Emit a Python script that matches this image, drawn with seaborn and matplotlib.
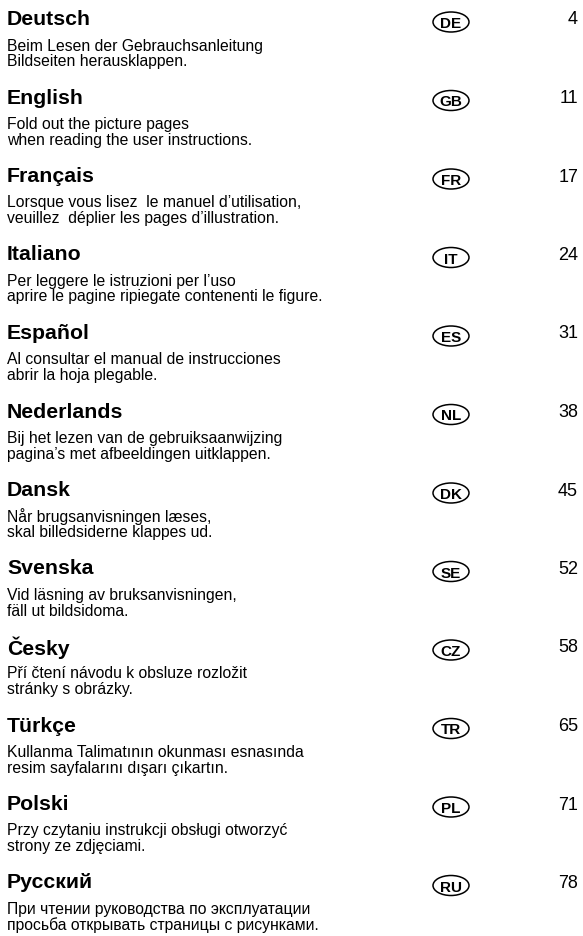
import matplotlib
matplotlib.use("Agg")
import matplotlib.pyplot as plt
from matplotlib.patches import Ellipse
import seaborn as sns

# -------- Table of contents data --------
languages = ["Deutsch", "English", "Français", "Italiano", "Español", "Nederlands",
             "Dansk", "Svenska", "Česky", "Türkçe", "Polski", "Русский"]
codes = ["DE", "GB", "FR", "IT", "ES", "NL", "DK", "SE", "CZ", "TR", "PL", "RU"]
pages = [4, 11, 17, 24, 31, 38, 45, 52, 58, 65, 71, 78]
notes = [
    ("Beim Lesen der Gebrauchsanleitung", "Bildseiten herausklappen."),
    ("Fold out the picture pages", "when reading the user instructions."),
    ("Lorsque vous lisez  le manuel d’utilisation,", "veuillez  déplier les pages d’illustration."),
    ("Per leggere le istruzioni per l’uso", "aprire le pagine ripiegate contenenti le figure."),
    ("Al consultar el manual de instrucciones", "abrir la hoja plegable."),
    ("Bij het lezen van de gebruiksaanwijzing", "pagina’s met afbeeldingen uitklappen."),
    ("Når brugsanvisningen læses,", "skal billedsiderne klappes ud."),
    ("Vid läsning av bruksanvisningen,", "fäll ut bildsidoma."),
    ("Pří čtení návodu k obsluze rozložit", "stránky s obrázky."),
    ("Kullanma Talimatının okunması esnasında", "resim sayfalarını dışarı çıkartın."),
    ("Przy czytaniu instrukcji obsługi otworzyć", "strony ze zdjęciami."),
    ("При чтении руководства по эксплуатации", "просьба открывать страницы с рисунками."),
]

sns.set_theme(style="white")
plt.rcParams["font.family"] = ["Liberation Sans", "DejaVu Sans"]

W, H = 583, 936
fig = plt.figure(figsize=(W / 100, H / 100), dpi=100)
ax = fig.add_axes([0, 0, 1, 1])
ax.set_xlim(0, W)
ax.set_ylim(H, 0)
ax.axis("off")

top, step = 17.5, 78.5
for i, (lang, code, page, (l1, l2)) in enumerate(zip(languages, codes, pages, notes)):
    y = top + i * step
    # heading, two-line hint
    ax.text(7, y, lang, fontsize=15.3, fontweight="bold", va="center_baseline", ha="left",
            color="black")
    ax.text(7, y + 27, l1, fontsize=11.3, va="center_baseline", ha="left", color="black")
    ax.text(7, y + 42.5, l2, fontsize=11.3, va="center_baseline", ha="left", color="black")
    # country badge
    ax.add_patch(Ellipse((451, y + 4.5), 36, 20, fill=False, lw=1.1, ec="black"))
    ax.text(451, y + 5, code, fontsize=11, fontweight="bold", va="center_baseline",
            ha="center", color="black")
    # page number
    ax.text(578, y + 0.5, str(page), fontsize=13, va="center_baseline", ha="right",
            color="black")

fig.savefig("out.png", dpi=100)
